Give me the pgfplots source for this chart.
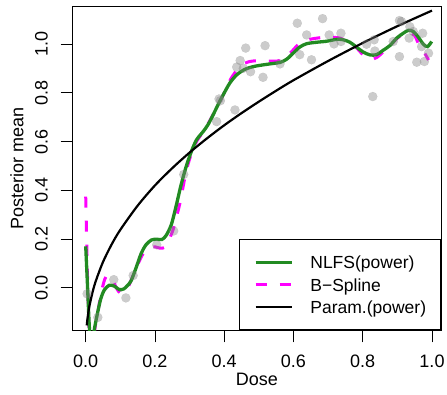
\documentclass[border=0pt]{standalone}
\usepackage{fontspec}
\setmainfont{Liberation Sans}
\usepackage{pgfplots}
\pgfplotsset{compat=1.18}
\definecolor{nlfs}{RGB}{34,139,34}
\definecolor{bsp}{RGB}{255,0,255}
\begin{document}
\fontsize{18}{21.6}\selectfont
\begin{tikzpicture}
\begin{axis}[name=ax, scale only axis, width=368.3pt, height=323.6pt,
 xmin=-0.0376, xmax=1.026, ymin=-0.175, ymax=1.154,
 xtick={0,0.2,0.4,0.6,0.8,1}, ytick={0,0.2,0.4,0.6,0.8,1},
 xtick pos=bottom, ytick pos=left, tick align=outside, major tick length=12pt,
 every tick/.style={black, line width=0.9pt},
 axis line style={line width=0.8pt},
 /pgf/number format/.cd, fixed, fixed zerofill, precision=1, assume math mode=true, /pgfplots/.cd,
 tick label style={font=\fontsize{18}{21.6}\selectfont, inner sep=0pt},
 yticklabel={\rotatebox{90}{\pgfmathprintnumber{\tick}}},
 yticklabel style={anchor=east},
 xticklabel style={anchor=north},
 xticklabel shift=12.5pt, yticklabel shift=12.7pt,
 xlabel={Dose}, ylabel={Posterior mean},
 label style={font=\fontsize{18}{21.6}\selectfont, inner sep=0pt},
 xlabel style={at={([yshift=-55.2pt]axis description cs:0.5,0)}, anchor=base},
 ylabel style={at={([xshift=-49.4pt]axis description cs:0,0.5)}, anchor=base},
 legend style={at={(1,0)}, anchor=south east, draw=black, line width=0.8pt, fill=white,
   inner xsep=14.5pt, inner ysep=16pt, font=\fontsize{17.5}{21}\selectfont,
   row sep=9.6pt, column sep=17pt,
   nodes={inner sep=0pt, text height=13pt, text depth=0pt}},
 legend cell align=left,
 legend image code/.code={\draw[#1] (0pt,0pt) -- (36pt,0pt);},
]
\addlegendimage{nlfs, line width=3.3pt}
\addlegendentry{NLFS(power)}
\addlegendimage{bsp, line width=3pt, dash pattern=on 11pt off 13pt}
\addlegendentry{B−Spline}
\addlegendimage{black, line width=2.2pt}
\addlegendentry{Param.(power)}

\addplot[forget plot, only marks, mark=*, mark size=4.6pt, color=gray, mark options={line width=0.01pt, draw=gray, fill=gray, opacity=0.4}] coordinates {
(0.004,-0.025) (0.035,-0.122) (0.081,0.033) (0.116,-0.042) (0.137,0.05)
(0.205,0.176) (0.254,0.233) (0.283,0.465) (0.378,0.682) (0.385,0.775) (0.389,0.768)
(0.431,0.730) (0.436,0.906) (0.446,0.933) (0.455,0.901) (0.462,0.984) (0.476,0.887)
(0.512,0.864) (0.518,0.994) (0.561,0.919) (0.611,1.086) (0.618,0.957) (0.638,1.038)
(0.652,0.936) (0.684,1.105) (0.703,1.038) (0.717,1.001) (0.737,1.045) (0.737,1.011)
(0.811,1.0) (0.833,1.018) (0.835,0.972) (0.829,0.785) (0.888,1.011) (0.906,0.949)
(0.906,1.097) (0.912,1.093) (0.936,1.072) (0.946,1.052) (0.934,1.025) (0.973,1.045)
(0.970,0.990) (0.956,0.926) (0.978,0.929) (0.990,0.963)
};

\addplot[forget plot, bsp, line width=3pt, dash pattern=on 11pt off 13pt, smooth] coordinates {
(0.0,0.374) (0.006,0.0) (0.012,-0.25) (0.02,-0.3) (0.026,-0.175) (0.035,-0.10) (0.045,-0.02)
(0.055,0.035) (0.063,0.050) (0.075,0.040) (0.09,-0.005) (0.1,-0.022) (0.112,-0.018)
(0.125,0.010) (0.14,0.062) (0.155,0.110) (0.17,0.150) (0.185,0.166) (0.2,0.168)
(0.215,0.162) (0.228,0.166) (0.24,0.195) (0.252,0.237) (0.262,0.29) (0.272,0.347)
(0.282,0.42) (0.291,0.484) (0.305,0.55) (0.32,0.60) (0.339,0.64) (0.36,0.69)
(0.38,0.745) (0.4,0.80) (0.42,0.86) (0.445,0.908) (0.465,0.925) (0.484,0.931)
(0.522,0.931) (0.561,0.933) (0.59,0.963) (0.618,1.004) (0.647,1.020) (0.695,1.029)
(0.734,1.025) (0.763,1.005) (0.782,0.985) (0.8,0.958) (0.821,0.938) (0.84,0.945)
(0.859,0.968) (0.879,0.995) (0.898,1.022) (0.917,1.043) (0.935,1.048) (0.95,1.035)
(0.96,1.005) (0.97,0.985) (0.99,0.935)
};

\addplot[forget plot, nlfs, line width=3.3pt, smooth] coordinates {
(0.0,0.17) (0.005,0.013) (0.011,-0.175) (0.017,-0.24) (0.025,-0.17) (0.035,-0.098)
(0.044,-0.043) (0.054,-0.009) (0.068,0.010) (0.083,0.006) (0.097,-0.008) (0.11,-0.005)
(0.12,0.008) (0.131,0.028) (0.145,0.080) (0.16,0.140) (0.174,0.176) (0.19,0.196)
(0.205,0.199) (0.22,0.198) (0.232,0.214) (0.247,0.258) (0.261,0.335) (0.275,0.42)
(0.29,0.497) (0.305,0.559) (0.32,0.607) (0.339,0.641) (0.353,0.669) (0.368,0.710)
(0.382,0.751) (0.397,0.792) (0.416,0.840) (0.436,0.874) (0.46,0.897) (0.484,0.908)
(0.512,0.915) (0.537,0.920) (0.561,0.925) (0.58,0.938) (0.599,0.963) (0.618,0.988)
(0.638,1.002) (0.667,1.008) (0.695,1.012) (0.725,1.020) (0.744,1.018) (0.763,1.008)
(0.782,0.988) (0.801,0.968) (0.821,0.956) (0.84,0.957) (0.859,0.975) (0.879,0.995)
(0.898,1.025) (0.917,1.045) (0.932,1.057) (0.946,1.052) (0.96,1.030) (0.975,1.000)
(0.987,0.990) (0.999,1.011)
};

\addplot[forget plot, black, line width=2.2pt, smooth] coordinates {
(0.003,-0.155) (0.005,-0.128) (0.01,-0.081) (0.02,-0.017) (0.03,0.031) (0.05,0.106)
(0.075,0.178) (0.1,0.238) (0.15,0.337) (0.2,0.420) (0.25,0.491) (0.3,0.555)
(0.35,0.613) (0.4,0.667) (0.45,0.717) (0.5,0.764) (0.55,0.809) (0.6,0.852)
(0.7,0.931) (0.8,1.005) (0.9,1.074) (1.0,1.138)
};
\end{axis}
\pgfresetboundingbox
\path ([shift={(-72.7pt,-64.7pt)}]ax.south west) rectangle ([shift={(6pt,6.7pt)}]ax.north east);
\end{tikzpicture}
\end{document}
